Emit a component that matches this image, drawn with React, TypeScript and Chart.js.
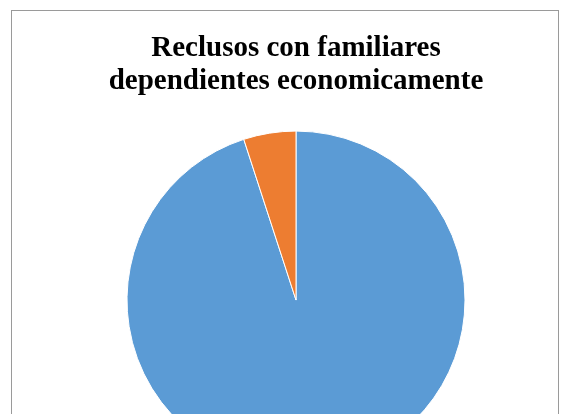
import React, { useEffect, useRef } from "react";
import { Chart, registerables } from "chart.js";

Chart.register(...registerables);

const titleLines = ["Reclusos con familiares", "dependientes economicamente"];
const categories = ["Sí", "No"];
const values = [95, 5];
const colors = ["#5B9BD5", "#ED7D31"];

export default function App() {
  const ref = useRef<HTMLCanvasElement | null>(null);

  useEffect(() => {
    if (!ref.current) return;
    const chart = new Chart(ref.current, {
      type: "pie",
      data: {
        labels: categories,
        datasets: [
          {
            data: values,
            backgroundColor: colors,
            borderColor: "#ffffff",
            borderWidth: 1,
          },
        ],
      },
      options: {
        responsive: false,
        animation: false,
        devicePixelRatio: 1,
        radius: 169,
        layout: { padding: { left: 13, right: 0, top: 0, bottom: 0 } },
        plugins: {
          legend: { display: false },
          tooltip: { enabled: false },
          title: {
            display: true,
            text: titleLines,
            color: "#000000",
            font: {
              family: "'Liberation Serif', 'Times New Roman', serif",
              size: 29,
              weight: "bold",
              lineHeight: 1.14,
            },
            padding: { top: 32, bottom: 10 },
          },
        },
      },
    });
    return () => chart.destroy();
  }, []);

  return (
    <div
      style={{
        position: "fixed",
        left: 0,
        top: 0,
        width: 579,
        height: 414,
        overflow: "hidden",
        background: "#ffffff",
      }}
    >
      <canvas
        ref={ref}
        width={579}
        height={492}
        style={{ position: "absolute", left: 0, top: 0, width: 579, height: 492 }}
      />
      <div
        style={{
          position: "absolute",
          left: 11,
          top: 10,
          width: 548,
          height: 500,
          border: "1px solid #9a9a9a",
          boxSizing: "border-box",
          pointerEvents: "none",
        }}
      />
    </div>
  );
}
